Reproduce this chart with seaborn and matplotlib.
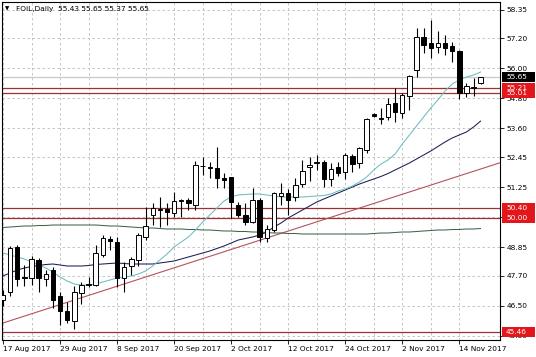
import numpy as np
import pandas as pd
import matplotlib
matplotlib.use("Agg")
import matplotlib.pyplot as plt
import seaborn as sns
from matplotlib.transforms import blended_transform_factory
from matplotlib.patches import Rectangle

# ---------------- data ----------------
opens = [46.75, 47.04, 48.86, 47.65, 47.60, 48.33, 47.57, 47.95, 46.88, 46.30,
         45.90, 47.02, 47.35, 47.33, 48.53, 49.17, 49.06, 47.60, 48.09, 48.33,
         49.26, 50.13, 50.34, 50.37, 50.22, 50.69, 50.73, 50.55, 52.08, 52.06,
         52.00, 51.62, 51.64, 50.53, 50.13, 49.86, 50.73, 49.20, 49.53, 50.89,
         51.00, 50.86, 51.39, 52.05, 52.21, 52.26, 51.56, 52.06, 51.86, 52.49,
         52.20, 52.73, 54.17, 53.98, 54.06, 54.60, 54.20, 54.89, 55.93, 57.24,
         57.00, 56.86, 57.00, 56.89, 56.70, 55.02, 55.22, 55.43]
highs = [47.15, 48.90, 48.93, 48.15, 48.50, 48.42, 47.95, 48.06, 47.05, 46.65,
         47.30, 47.45, 47.66, 48.93, 49.33, 49.30, 49.26, 48.26, 48.46, 49.40,
         50.46, 50.60, 50.84, 50.60, 51.06, 50.76, 50.80, 52.28, 52.46, 52.26,
         52.86, 51.80, 51.66, 50.66, 50.60, 51.20, 50.80, 49.73, 51.06, 51.40,
         51.16, 51.60, 52.33, 52.45, 52.53, 52.33, 52.20, 52.26, 52.60, 52.57,
         52.86, 54.00, 54.20, 54.40, 54.80, 55.20, 55.00, 55.73, 57.61, 57.63,
         57.93, 57.48, 57.33, 57.05, 56.73, 55.40, 55.60, 55.65]
lows = [46.50, 46.90, 47.30, 47.30, 47.35, 47.06, 47.30, 46.40, 45.75, 45.80,
        45.57, 46.56, 47.26, 47.28, 48.46, 48.75, 47.26, 47.06, 47.73, 48.10,
        49.13, 49.75, 49.66, 49.73, 50.06, 50.06, 50.33, 50.35, 51.73, 51.60,
        51.20, 51.20, 50.00, 50.06, 49.73, 49.80, 49.06, 49.06, 49.45, 50.53,
        50.13, 50.70, 51.24, 51.50, 51.93, 51.24, 51.30, 51.70, 51.56, 51.86,
        52.00, 52.60, 54.05, 53.77, 53.93, 53.86, 54.00, 54.33, 55.66, 56.60,
        56.40, 56.63, 56.53, 56.26, 54.78, 54.84, 54.89, 55.37]
closes = [46.95, 48.80, 47.57, 47.62, 48.37, 47.62, 47.76, 46.75, 46.28, 45.93,
          47.07, 47.32, 47.38, 48.60, 49.20, 49.09, 47.60, 48.06, 48.36, 49.33,
          49.69, 50.40, 50.38, 50.24, 50.70, 50.72, 50.62, 52.15, 52.11, 52.00,
          51.60, 51.53, 50.66, 50.13, 49.86, 50.73, 49.26, 49.56, 51.00, 51.02,
          50.73, 51.33, 51.90, 52.12, 52.23, 51.56, 51.96, 51.82, 52.53, 52.17,
          52.80, 53.96, 54.09, 54.00, 54.57, 54.26, 54.93, 55.69, 57.24, 56.93,
          56.80, 57.02, 56.80, 56.70, 55.00, 55.29, 55.25, 55.65]

ma_fast = [48.61, 48.53, 48.45, 48.37, 48.25, 48.13, 48.01, 47.85, 47.65, 47.49,
           47.37, 47.33, 47.33, 47.37, 47.45, 47.53, 47.61, 47.65, 47.69, 47.77,
           47.89, 48.09, 48.33, 48.57, 48.85, 49.05, 49.25, 49.53, 49.85, 50.13,
           50.41, 50.69, 50.85, 50.93, 50.95, 50.97, 50.97, 50.93, 50.89, 50.85,
           50.85, 50.85, 50.85, 50.87, 50.89, 50.91, 50.97, 51.09, 51.17, 51.29,
           51.45, 51.65, 51.93, 52.17, 52.33, 52.57, 52.97, 53.33, 53.69, 54.05,
           54.41, 54.73, 55.09, 55.37, 55.53, 55.65, 55.73, 55.85]
ma_mid = [47.69, 47.81, 47.93, 48.01, 48.07, 48.11, 48.15, 48.17, 48.13, 48.09,
          48.09, 48.09, 48.11, 48.15, 48.17, 48.19, 48.21, 48.19, 48.17, 48.17,
          48.17, 48.17, 48.21, 48.25, 48.29, 48.37, 48.45, 48.53, 48.61, 48.69,
          48.79, 48.89, 49.01, 49.13, 49.19, 49.25, 49.33, 49.45, 49.65, 49.81,
          50.01, 50.17, 50.33, 50.49, 50.65, 50.77, 50.89, 51.01, 51.13, 51.25,
          51.37, 51.47, 51.57, 51.67, 51.79, 51.93, 52.07, 52.21, 52.37, 52.53,
          52.69, 52.87, 53.05, 53.21, 53.33, 53.45, 53.65, 53.89]
ma_slow = [49.63, 49.65, 49.67, 49.69, 49.69, 49.71, 49.71, 49.73, 49.73, 49.73,
           49.73, 49.73, 49.73, 49.73, 49.71, 49.69, 49.69, 49.67, 49.65, 49.63,
           49.61, 49.61, 49.59, 49.57, 49.57, 49.57, 49.55, 49.55, 49.53, 49.53,
           49.51, 49.49, 49.49, 49.47, 49.47, 49.45, 49.45, 49.43, 49.41, 49.41,
           49.39, 49.39, 49.37, 49.37, 49.37, 49.37, 49.37, 49.37, 49.37, 49.37,
           49.37, 49.37, 49.39, 49.41, 49.41, 49.43, 49.45, 49.45, 49.47, 49.49,
           49.51, 49.53, 49.53, 49.55, 49.55, 49.57, 49.57, 49.59]

trend_bars = [0, 67]
trend_prices = [45.81, 51.97]
red_levels = [55.21, 55.01, 50.40, 50.00, 45.46]
bid_price = 55.65
y_ticks = [58.35, 57.20, 56.00, 54.80, 53.60, 52.45, 51.25, 50.05,
           48.85, 47.70, 46.50, 45.30]
date_label_bars = [0, 8, 16, 24, 32, 40, 48, 56, 64]
date_labels = ["17 Aug 2017", "29 Aug 2017", "8 Sep 2017", "20 Sep 2017",
               "2 Oct 2017", "12 Oct 2017", "24 Oct 2017", "2 Nov 2017",
               "14 Nov 2017"]
title = "FOIL,Daily  55.43 55.65 55.37 55.65"

# ---------------- styling ----------------
sns.set_theme(style="white")
plt.rcParams['font.family'] = ['DejaVu Sans']
FS = 5.3

W, H = 536, 357
fig = plt.figure(figsize=(W / 100, H / 100), dpi=100)
fig.patch.set_facecolor("white")
ax = fig.add_axes([2 / W, 1 - 340 / H, 498 / W, 338 / H])
ax.set_facecolor("white")

n = len(opens)
bars = np.arange(n)
df = pd.DataFrame({"bar": bars, "open": opens, "high": highs,
                   "low": lows, "close": closes})
up = df["close"] >= df["open"]

# grid
ax.set_xlim(-0.14, 69.71)
ax.set_ylim(45.13, 58.65)
ax.set_yticks(y_ticks)
ax.set_xticks(date_label_bars)
ax.set_xticklabels(date_labels, ha="left")
ax.set_xticks(np.arange(0, n, 4), minor=True)
ax.grid(True, which="both", axis="x", color="#bdbdbd", lw=0.6,
        ls=(0, (3, 3)), zorder=0)
ax.grid(True, which="major", axis="y", color="#bdbdbd", lw=0.6,
        ls=(0, (3, 3)), zorder=0)

ax.yaxis.tick_right()
ax.tick_params(axis="y", which="major", direction="out", length=3,
               width=0.6, color="black", labelsize=FS, pad=2,
               labelcolor="black", right=True, left=False)
ax.tick_params(axis="x", which="major", direction="out", length=3,
               width=0.6, color="black", labelsize=FS, pad=1.5,
               labelcolor="black", bottom=True)
ax.tick_params(axis="x", which="minor", bottom=False)
for s in ax.spines.values():
    s.set_color("black")
    s.set_linewidth(0.8)

# horizontal levels
ax.axhline(bid_price, color="#c8c8c8", lw=0.9, zorder=1)
for lv in red_levels:
    ax.axhline(lv, color="#993333", lw=0.9, zorder=1)

# trend line
ax.axline((trend_bars[0], trend_prices[0]), (trend_bars[1], trend_prices[1]),
          color="#b5525c", lw=0.8, zorder=2)

# moving averages
ma_df = pd.DataFrame({
    "bar": np.concatenate([bars, bars, bars]),
    "value": ma_slow + ma_mid + ma_fast,
    "ma": ["slow"] * n + ["mid"] * n + ["fast"] * n,
})
sns.lineplot(data=ma_df, x="bar", y="value", hue="ma",
             palette={"slow": "#3d6647", "mid": "#1c1c58", "fast": "#6cbcc0"},
             legend=False, lw=0.75, ax=ax, zorder=2)

# candles
ax.vlines(df["bar"], df["low"], df["high"], color="black", lw=0.8, zorder=3)
body_low = np.minimum(df["open"], df["close"])
body_h = np.maximum(np.abs(df["close"] - df["open"]), 0.02)
ax.bar(df["bar"], body_h, bottom=body_low, width=0.62,
       color=np.where(up, "white", "black"), edgecolor="black",
       linewidth=0.7, zorder=4)

ax.set_xlabel("")
ax.set_ylabel("")

# right-side price boxes
trans = blended_transform_factory(ax.transAxes, ax.transData)
box_w = 33 / 498
box_h = 10 / 25.0
def price_box(price, fc):
    ax.add_patch(Rectangle((1.004, price - box_h / 2), box_w, box_h,
                           transform=trans, facecolor=fc, edgecolor="none",
                           clip_on=False, zorder=20))
    ax.text(1.012, price, f"{price:.2f}", transform=trans, ha="left",
            va="center", color="white", fontsize=FS, clip_on=False, zorder=21)

for lv in red_levels:
    price_box(lv, "#e3161b")
price_box(bid_price, "black")

# title
fig.text(5 / W, 1 - 9 / H, "\u25BC", fontsize=4, color="black",
         ha="left", va="center")
fig.text(16 / W, 1 - 9 / H, title, fontsize=FS, color="black",
         ha="left", va="center")

fig.savefig("out.png", dpi=100, facecolor="white")
